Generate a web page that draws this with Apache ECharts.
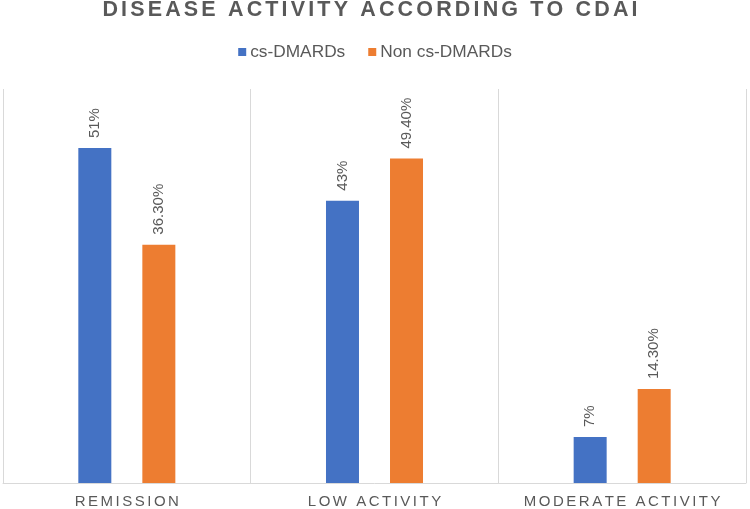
<!DOCTYPE html>
<html>
<head>
<meta charset="utf-8">
<script src="https://cdn.jsdelivr.net/npm/echarts@6/dist/echarts.min.js"></script>
<style>
  html, body { margin: 0; padding: 0; background: #ffffff; }
  #chart { width: 750px; height: 509px; }
</style>
</head>
<body>
<div id="chart"></div>
<script>
// ---- data ----
const categories = ['REMISSION', 'LOW ACTIVITY', 'MODERATE ACTIVITY'];
const seriesNames = ['cs-DMARDs', 'Non cs-DMARDs'];
const csValues = [51, 43, 7];
const nonCsValues = [36.3, 49.4, 14.3];
const csLabels = ['51%', '43%', '7%'];
const nonCsLabels = ['36.30%', '49.40%', '14.30%'];

// letter-spaced drawing for the title and category labels only
// (they use the family name "Liberation Sans"; other text uses "Arial")
(function () {
  const proto = CanvasRenderingContext2D.prototype;
  const origFill = proto.fillText;
  proto.fillText = function (t, x, y, w) {
    const f = String(this.font || '');
    if (typeof t !== 'string' || t.length < 2 || f.indexOf('Liberation Sans') < 0) {
      return w === undefined ? origFill.call(this, t, x, y) : origFill.call(this, t, x, y, w);
    }
    const m = f.match(/([\d.]+)px/);
    const size = m ? parseFloat(m[1]) : 12;
    const sp = size >= 20 ? 3.15 : 2.5;
    const chars = Array.from(t);
    const widths = chars.map(c => this.measureText(c).width);
    let total = sp * (chars.length - 1);
    widths.forEach(v => { total += v; });
    const align = this.textAlign;
    let sx = x;
    if (align === 'center') sx = x - total / 2;
    else if (align === 'right' || align === 'end') sx = x - total;
    this.save();
    this.textAlign = 'left';
    let cx = sx;
    for (let i = 0; i < chars.length; i++) {
      origFill.call(this, chars[i], cx, y);
      cx += widths[i] + sp;
    }
    this.restore();
  };
})();

const chart = echarts.init(document.getElementById('chart'), null, { renderer: 'canvas' });

const labelBase = {
  show: true,
  position: 'top',
  distance: 10,
  rotate: 90,
  align: 'left',
  verticalAlign: 'middle',
  color: '#595959',
  fontSize: 15,
  fontFamily: 'Arial'
};

chart.setOption({
  animation: false,
  backgroundColor: '#ffffff',
  title: {
    text: 'DISEASE ACTIVITY ACCORDING TO CDAI',
    left: 370,
    textAlign: 'center',
    top: -1,
    padding: 0,
    textStyle: {
      color: '#595959',
      fontSize: 21.5,
      fontWeight: 'bold',
      fontFamily: 'Liberation Sans'
    }
  },
  legend: {
    data: seriesNames,
    left: 'center',
    top: 43.5,
    padding: 0,
    icon: 'rect',
    itemWidth: 8,
    itemHeight: 8,
    itemGap: 23,
    textStyle: {
      color: '#595959',
      fontSize: 17.3,
      fontFamily: 'Arial',
      padding: [0, 0, 0, -1]
    }
  },
  grid: {
    left: 3,
    right: 4,
    top: 89,
    bottom: 26,
    containLabel: false
  },
  xAxis: {
    type: 'category',
    data: categories,
    axisLine: { show: true, lineStyle: { color: '#D9D9D9', width: 1 } },
    axisTick: { show: false },
    splitLine: { show: true, lineStyle: { color: '#D9D9D9', width: 1 } },
    axisLabel: {
      color: '#595959',
      fontSize: 15,
      fontFamily: 'Liberation Sans',
      margin: 11,
      interval: 0
    }
  },
  yAxis: {
    type: 'value',
    min: 0,
    max: 60,
    show: false,
    splitLine: { show: false }
  },
  series: [
    {
      name: seriesNames[0],
      type: 'bar',
      data: csValues,
      barWidth: 33,
      barGap: '94%',
      itemStyle: { color: '#4472C4' },
      label: Object.assign({}, labelBase, {
        formatter: function (p) { return csLabels[p.dataIndex]; }
      })
    },
    {
      name: seriesNames[1],
      type: 'bar',
      data: nonCsValues,
      barWidth: 33,
      barGap: '94%',
      itemStyle: { color: '#ED7D31' },
      label: Object.assign({}, labelBase, {
        formatter: function (p) { return nonCsLabels[p.dataIndex]; }
      })
    }
  ]
});
</script>
</body>
</html>
